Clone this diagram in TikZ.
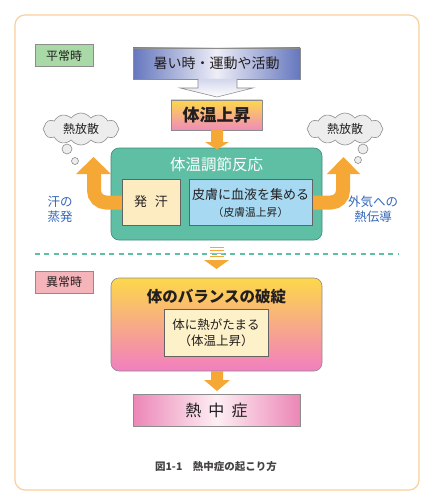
\documentclass[tikz,border=0pt]{standalone}
\usepackage{fontspec}
\setmainfont{Noto Sans CJK JP}
\usetikzlibrary{shapes.symbols}
\definecolor{frameC}{HTML}{FBCF98}
\definecolor{greenL}{HTML}{A9D9A7}
\definecolor{pinkL}{HTML}{F5B3BA}
\definecolor{blueB}{HTML}{6577BE}
\definecolor{blueW}{HTML}{EEEEF7}
\definecolor{yelT}{HTML}{FDD84A}
\definecolor{pinkB}{HTML}{F08CBA}
\definecolor{orangeA}{HTML}{F5A835}
\definecolor{tealB}{HTML}{5FBFA5}
\definecolor{tealD}{HTML}{3F8A78}
\definecolor{yelBox}{HTML}{FDEBC2}
\definecolor{ltBlue}{HTML}{A7DAF2}
\definecolor{cloudC}{HTML}{EDEDED}
\definecolor{blueTxt}{HTML}{3466B8}
\definecolor{inBox}{HTML}{FDF1C9}
\definecolor{pinkE}{HTML}{EC86B6}
\definecolor{pinkW}{HTML}{FDEFF4}
\definecolor{txt}{HTML}{231F20}
\definecolor{grayB}{HTML}{8C8C8C}
\tikzset{
  lbl/.style={draw=grayB, line width=0.6pt, minimum width=58, minimum height=22, inner sep=0pt, font=\fontsize{12}{14}\selectfont, text=txt},
  cloudn/.style={cloud, cloud puffs=12, cloud puff arc=110, aspect=2.4, draw=grayB, fill=cloudC, line width=0.6pt, minimum width=76, minimum height=32, inner sep=0pt, font=\fontsize{12}{14}\selectfont, text=txt},
  bub/.style={circle, draw=grayB, fill=cloudC, line width=0.6pt, inner sep=0pt},
  oarrow/.style={draw=orangeA, line width=14pt, rounded corners=12pt},
  ohead/.style={fill=orangeA, draw=none},
  sidetxt/.style={text=blueTxt, font=\fontsize{12.5}{15}\selectfont, align=center, inner sep=0pt},
}
\begin{document}
\begin{tikzpicture}[x=1pt,y=-1pt]
\useasboundingbox (0,0) rectangle (433,500);
% outer frame
\draw[frameC, line width=1.2pt, rounded corners=10pt] (15,15) rectangle (419,490);

% labels
\node[lbl, fill=greenL] (normal) at (64,55.5) {平常時};
\node[lbl, fill=pinkL] (abnormal) at (64,282) {異常時};

% top blue box
\node[draw=grayB, line width=0.6pt, left color=blueB, right color=blueB, middle color=blueW, minimum width=167, minimum height=31, inner sep=0pt, font=\fontsize{14}{16}\selectfont, text=txt] (hot) at (216.5,63.5) {暑い時・運動や活動};
% gray big arrow
\coordinate (ga) at (217,97);
\draw[grayB, line width=0.6pt, top color=blueW!80!blueB, bottom color=white] (198,79) -- (198,88) -- (180,88) -- (ga) -- (253,88) -- (237,88) -- (237,79);

% 体温上昇
\node[draw=grayB, line width=0.6pt, top color=yelT, bottom color=pinkB, minimum width=91, minimum height=30, inner sep=0pt, font=\fontsize{17}{19}\selectfont\bfseries, text=txt] (rise) at (216.5,115) {体温上昇};

% clouds
\node[cloudn] (cl) at (81,129) {熱放散};
\node[bub, minimum size=10] (cl1) at (67,149) {};
\node[bub, minimum size=7] (cl2) at (75,161) {};
\node[cloudn] (cr) at (345,129) {熱放散};
\node[bub, minimum size=10] (cr1) at (363,149) {};
\node[bub, minimum size=7] (cr2) at (358,160) {};

% green box
\node[draw=tealD, line width=0.6pt, fill=tealB, rounded corners=8pt, minimum width=211, minimum height=92, inner sep=0pt] (reg) at (216.5,194) {};
\node[text=white, font=\fontsize{15.5}{18}\selectfont, inner sep=0pt] (regt) at (216.5,165) {体温調節反応};

% arrow from rise to reg
\fill[orangeA] (211,130) -- (223,130) -- (223,142) -- (229,142) -- (217,149.5) -- (205,142) -- (211,142) -- cycle;

% side arrows
\coordinate (la) at (122,202.5);
\coordinate (ra) at (312,202.5);
\draw[oarrow] (la) -- (94,202.5) -- (94,172);
\fill[orangeA] (76,174) -- (93.5,157) -- (111,174) -- cycle;
\draw[oarrow] (ra) -- (343,202.5) -- (343,172);
\fill[orangeA] (327,174) -- (343.5,157) -- (360,174) -- cycle;

% inner boxes
\node[draw=txt!70, line width=0.6pt, fill=yelBox, minimum width=58, minimum height=46, inner sep=0pt, font=\fontsize{13}{15}\selectfont, text=txt] (sweat) at (151,202) {発\hspace{0.6em}汗};
\node[draw=txt!70, line width=0.6pt, fill=ltBlue, minimum width=123, minimum height=46, inner sep=0pt] (skin) at (250.5,202) {};
\node[font=\fontsize{13}{15}\selectfont, text=txt, inner sep=0pt] (skin1) at (250.5,195) {皮膚に血液を集める};
\node[font=\fontsize{10.8}{13}\selectfont, text=txt, inner sep=0pt] (skin2) at (250.5,212) {（皮膚温上昇）};

% side texts
\node[sidetxt] (evap) at (60,209.5) {汗の\\蒸発};
\node[sidetxt] (cond) at (373,209.5) {外気への\\熱伝導};

% dashed line
\draw[tealB, line width=1.6pt, dash pattern=on 5pt off 4.3pt] (35,254) -- (398,254);
% striped arrow
\foreach \yy in {246.5,249.5,252.5,255.5}
  \fill[orangeA] (210,\yy) rectangle (223.5,\yy+1.7);
\fill[orangeA] (204,260) -- (229,260) -- (216.5,269) -- cycle;

% big box
\node[draw=grayB, line width=0.6pt, top color=yelT, bottom color=pinkB!90!magenta, rounded corners=8pt, minimum width=211, minimum height=93, inner sep=0pt] (bal) at (216.5,324.5) {};
\node[font=\fontsize{15.5}{18}\selectfont\bfseries, text=txt, inner sep=0pt] (balt) at (216.5,297) {体のバランスの破綻};
\node[draw=txt!70, line width=0.6pt, fill=inBox, minimum width=104, minimum height=47, inner sep=0pt, align=center, font=\fontsize{12.5}{16}\selectfont, text=txt] (heat) at (216,332.5) {体に熱がたまる\\（体温上昇）};

% arrow down
\fill[orangeA] (211,371) -- (223,371) -- (223,380) -- (230,380) -- (217,391) -- (204,380) -- (211,380) -- cycle;

% 熱中症
\node[draw=grayB, line width=0.6pt, left color=pinkE, right color=pinkE, middle color=pinkW, minimum width=167, minimum height=32, inner sep=0pt, font=\fontsize{16}{18}\selectfont, text=txt] (hs) at (216.5,410) {熱\hspace{0.45em}中\hspace{0.45em}症};

% caption
\node[font=\fontsize{10.5}{12}\selectfont\bfseries, text=txt!85, inner sep=0pt] (cap) at (216,467) {図1-1\hspace{1em}熱中症の起こり方};
\end{tikzpicture}
\end{document}
